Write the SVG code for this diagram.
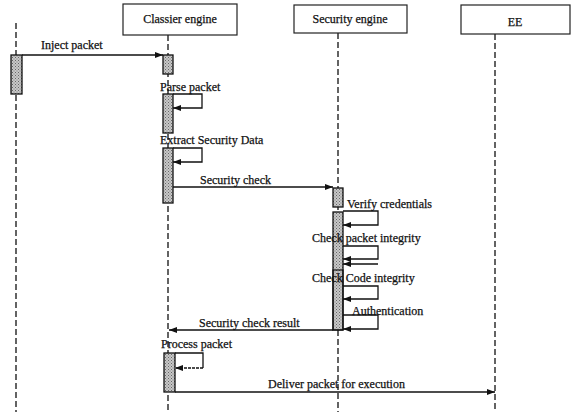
<svg xmlns="http://www.w3.org/2000/svg" width="579" height="412" viewBox="0 0 579 412">
<style>
text{font-family:"Liberation Serif","Times New Roman",serif;font-size:12px;fill:#111;stroke:#111;stroke-width:0.25}
.hd{fill:#fff;stroke:#222;stroke-width:1.2}
.life{stroke:#222;stroke-width:1.4;stroke-dasharray:6 3;fill:none}
.act{fill:url(#hatch);stroke:#111;stroke-width:1.3}
.msg{stroke:#111;stroke-width:1.3;fill:none}
</style>
<defs>
<pattern id="hatch" width="3" height="3" patternUnits="userSpaceOnUse">
<rect width="3" height="3" fill="#c8c8c8"/>
<rect width="1" height="1" fill="#666"/>
<rect x="1.5" y="1.5" width="1" height="1" fill="#777"/>
</pattern>
<marker id="ah" markerWidth="8" markerHeight="6" refX="8" refY="3" orient="auto" markerUnits="userSpaceOnUse">
<path d="M0,0 L8,3 L0,6 Z" fill="#111"/>
</marker>
</defs>
<rect width="579" height="412" fill="#fff"/>

<g id="actor">
<line class="life" x1="16" y1="23" x2="16" y2="412"/>
<rect class="act" x="11" y="55" width="11" height="39"/>
</g>
<g id="classier">
<rect class="hd" x="123" y="4" width="114" height="31"/>
<text x="180" y="23" text-anchor="middle">Classier engine</text>
<line class="life" x1="168" y1="35" x2="168" y2="412"/>
<rect class="act" x="163" y="55" width="10" height="19"/>
<rect class="act" x="163" y="94" width="10" height="39"/>
<rect class="act" x="163" y="148" width="10" height="55"/>
<rect class="act" x="164" y="353" width="11" height="39"/>
</g>
<g id="security">
<rect class="hd" x="294" y="5" width="113" height="28"/>
<text x="350" y="23" text-anchor="middle">Security engine</text>
<line class="life" x1="338" y1="33" x2="338" y2="412"/>
<rect class="act" x="333" y="188" width="10" height="19"/>
<rect class="act" x="333" y="212" width="10" height="118"/>
<rect x="333" y="270" width="10" height="60" fill="none" stroke="#111" stroke-width="1.2"/>
</g>
<g id="ee">
<rect class="hd" x="461" y="5" width="109" height="29"/>
<text x="515" y="26" text-anchor="middle">EE</text>
<line class="life" x1="495" y1="34" x2="495" y2="412"/>
</g>

<g id="connectors">
<line class="msg" x1="22" y1="55" x2="163" y2="55" marker-end="url(#ah)"/>
<polyline class="msg" points="173,94 202,94 202,108 173,108" marker-end="url(#ah)"/>
<polyline class="msg" points="173,148 202,148 202,162 173,162" marker-end="url(#ah)"/>
<line class="msg" x1="173" y1="187" x2="333" y2="187" marker-end="url(#ah)"/>
<polyline class="msg" points="343,211 378,211 378,225 343,225" marker-end="url(#ah)"/>
<polyline class="msg" points="343,246 378,246 378,259 343,259" marker-end="url(#ah)"/>
<line class="msg" x1="378" y1="264" x2="343" y2="264" marker-end="url(#ah)"/>
<polyline class="msg" points="343,286 378,286 378,299 343,299" marker-end="url(#ah)"/>
<polyline class="msg" points="343,315 378,315 378,329 343,329" marker-end="url(#ah)"/>
<line class="msg" x1="333" y1="330" x2="169" y2="330" marker-end="url(#ah)"/>
<polyline class="msg" points="175,353 203,353 203,368"/>
<line class="msg" x1="203" y1="368" x2="175" y2="368" stroke-dasharray="3 1" marker-end="url(#ah)"/>
<line class="msg" x1="175" y1="392" x2="495" y2="392" marker-end="url(#ah)"/>
</g>

<g id="labels">
<text x="41" y="49">Inject packet</text>
<text x="160" y="91">Parse packet</text>
<text x="160" y="144">Extract Security Data</text>
<text x="200" y="184">Security check</text>
<text x="347" y="208">Verify credentials</text>
<text x="312" y="242">Check packet integrity</text>
<text x="312" y="282">Check Code integrity</text>
<text x="352" y="315">Authentication</text>
<text x="199" y="327">Security check result</text>
<text x="161" y="348">Process packet</text>
<text x="268" y="388">Deliver packet for execution</text>
</g>
</svg>
